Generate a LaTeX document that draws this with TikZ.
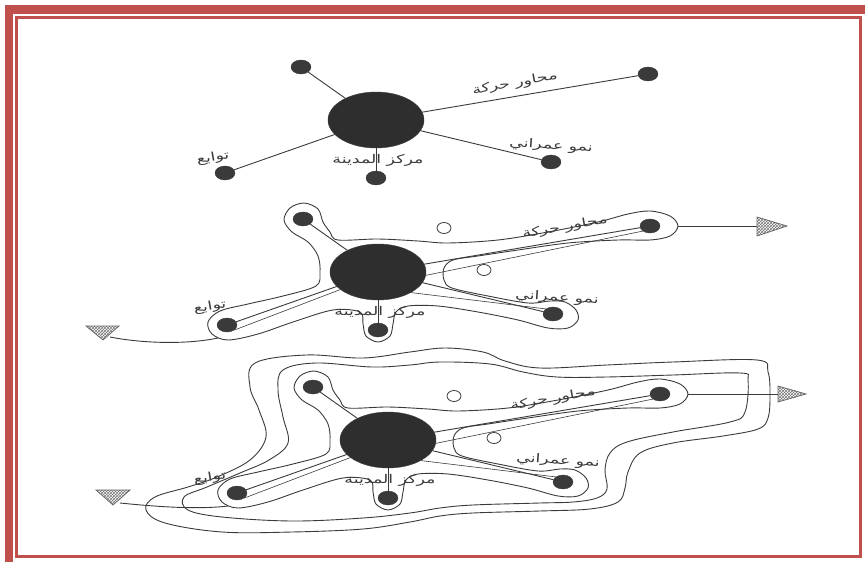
\documentclass[tikz,border=0pt]{standalone}
\usepackage{fontspec}
\newfontfamily\arabicfont[Script=Arabic, FakeStretch=1.45]{DejaVu Sans}
\TeXXeTstate=1
\usetikzlibrary{shapes.geometric,patterns}
\definecolor{framered}{HTML}{C0504D}
\definecolor{ink}{HTML}{3A3A3A}
\tikzset{
  citycore/.style={ellipse, fill=ink!80!black, draw=ink, minimum width=96pt, minimum height=56pt, inner sep=0pt},
  satdot/.style={ellipse, fill=ink, draw=ink, minimum width=20pt, minimum height=14pt, inner sep=0pt},
  openspot/.style={ellipse, draw=ink, fill=white, line width=0.8pt, minimum width=14pt, minimum height=11pt, inner sep=0pt},
  axisline/.style={draw=ink, line width=0.9pt},
  growthline/.style={draw=ink, line width=0.9pt},
  lbl/.style={font=\arabicfont\fontsize{12}{14}\selectfont, text=ink, inner sep=1pt},
  arrowtri/.style={draw=ink!80, pattern=crosshatch, pattern color=ink!70, line width=0.7pt},
}
\begin{document}
\begin{tikzpicture}[x=1pt,y=-1pt]
\useasboundingbox (0,0) rectangle (865,562);
% frame
\fill[framered] (5,5) rectangle (865,14);
\fill[framered] (5,5) rectangle (13,562);
\draw[framered, line width=2.5pt] (16.5,17.5) rectangle (860.5,556.5);

% outer zones of third stage
\draw[growthline] plot[smooth cycle, tension=0.6] coordinates {
 (255,363) (306,355) (363,358) (410,352) (445,348) (483,352) (505,361) (540,368)
 (607,365) (673,362) (757,360) (768,372) (770,395) (768,418) (758,429) (723,436)
 (673,443) (640,453) (628,472) (625,488) (618,502) (590,509) (540,511) (473,513)
 (440,516) (410,522) (363,529) (292,532) (222,532) (165,523) (146,510) (155,497)
 (188,487) (217,477) (250,460) (266,437) (259,410) (250,387)};
\draw[growthline] plot[smooth cycle, tension=0.6] coordinates {
 (283,370) (316,363) (372,367) (410,365) (440,362) (490,364) (523,372) (557,377)
 (607,377) (673,375) (740,373) (748,380) (745,412) (730,422) (673,432) (627,442)
 (610,453) (605,470) (607,489) (597,498) (573,502) (540,503) (473,505) (440,508)
 (410,513) (363,518) (292,521) (222,517) (188,510) (184,497) (207,487) (240,473)
 (269,460) (288,443) (283,417) (278,390)};

\foreach \i/\cx/\cy/\mx/\nx/\ny/\tx/\ty in {1/376/120/139/175/26/-163/38, 2/378/272/187/179/26/-168/35, 3/388/440/165/170/21/-178/38}{
\begin{scope}[shift={(\cx,\cy)}]
  \ifnum\i>1
  \draw[growthline] plot[smooth cycle, tension=0.55] coordinates {
   (-40,-32) (0,-33) (40,-31) (70,-29) (120,-32) (170,-40) (220,-50) (250,-58)
   (272,-61) (292,-56) (300,-46) (292,-36) (272,-32) (240,-32) (190,-29) (140,-22)
   (100,-16) (75,-12) (66,-4) (66,8) (74,16) (110,24) (150,31) (172,29) (187,30)
   (198,38) (200,48) (190,56) (170,56) (140,48) (100,40) (60,34) (30,34) (18,40)
   (15,52) (12,64) (0,70) (-12,64) (-15,52) (-18,40) (-45,38) (-85,50) (-120,62)
   (-150,68) (-166,62) (-170,50) (-158,39) (-130,32) (-95,24) (-62,14) (-58,0)
   (-60,-16) (-70,-30) (-86,-40) (-94,-52) (-88,-64) (-74,-69) (-60,-63) (-55,-50) (-48,-40)};
  \node[openspot] (o\i a) at (66,-44) {};
  \node[openspot] (o\i b) at (106,-2) {};
  \coordinate (re\i) at (300,-46);
  \coordinate (le\i) at (-160,66);
  \fi
  \node[citycore] (c\i) at (0,0) {};
  \node[satdot] (tl\i) at (-75,-53) {};
  \node[satdot] (r\i) at (272,-46) {};
  \node[satdot] (lr\i) at (175,42) {};
  \node[satdot] (b\i) at (0,58) {};
  \node[satdot] (l\i) at (-151,53) {};
  \draw[axisline] (c\i) -- (tl\i);
  \draw[axisline] (c\i) -- (r\i);
  \draw[axisline] (c\i) -- (lr\i);
  \draw[axisline] (c\i) -- (b\i);
  \draw[axisline] (c\i) -- (l\i);
  \ifnum\i>1
  \draw[axisline, line width=0.6pt] (c\i.-4) -- (r\i.south west);
  \draw[axisline, line width=0.6pt] (c\i.-32) -- (lr\i.north west);
  \draw[axisline, line width=0.6pt] (c\i.205) -- (l\i.south east);
  \fi
  \node[rotate=10, lbl] (m\i) at ({\mx},{-0.169*\mx-13}) {\beginR محاور حركة\endR};
  \node[rotate=-4, lbl] (n\i) at (\nx,\ny) {\beginR نمو عمراني\endR};
  \node[rotate=10, lbl] (t\i) at (\tx,\ty) {\beginR توابع\endR};
  \node[lbl] (k\i) at (2,40) {\beginR مركز المدينة\endR};
\end{scope}
}

% external links (arrows) stage 2
\coordinate (ab2) at (757,226);
\draw[axisline] (re2) -- (ab2);
\draw[arrowtri] (757,217) -- (787,226) -- (757,236) -- cycle;
\coordinate (lt2) at (110,337);
\draw[axisline] (le2) .. controls (185,345) and (140,343) .. (lt2);
\draw[arrowtri] (86,326) -- (119,326) -- (103,340) -- cycle;

% external links (arrows) stage 3
\coordinate (ab3) at (778,394);
\draw[axisline] (re3) -- (ab3);
\draw[arrowtri] (778,386) -- (806,394) -- (778,402) -- cycle;
\coordinate (lt3) at (120,503);
\draw[axisline] (le3) .. controls (195,510) and (150,506) .. (lt3);
\draw[arrowtri] (96,490) -- (130,490) -- (113,505) -- cycle;
\end{tikzpicture}
\end{document}
